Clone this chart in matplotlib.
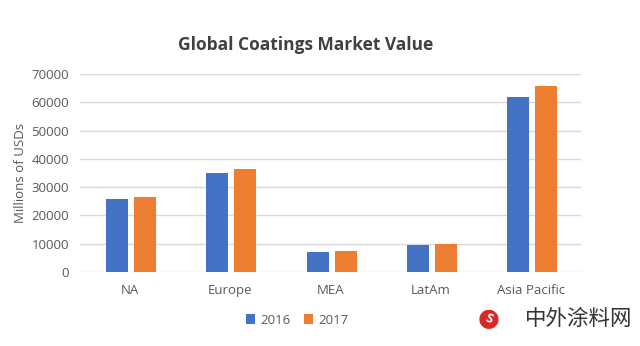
import matplotlib
matplotlib.use("Agg")
import matplotlib.pyplot as plt
import numpy as np

regions = ["NA", "Europe", "MEA", "LatAm", "Asia Pacific"]
years = ["2016", "2017"]
values_2016 = [25800, 35000, 6900, 9700, 61800]
values_2017 = [26500, 36500, 7300, 10000, 65800]
yticks = [0, 10000, 20000, 30000, 40000, 50000, 60000, 70000]

blue = "#4472C4"
orange = "#ED7D31"
grey = "#595959"

plt.rcParams['font.family'] = ['Open Sans', 'DejaVu Sans']

fig = plt.figure(figsize=(6.4, 3.46), dpi=100)
ax = fig.add_axes([0.125, 0.214, 0.783, 0.572])

x = np.arange(len(regions))
w = 0.22
ax.bar(x - 0.13, values_2016, w, color=blue, label=years[0], zorder=3)
ax.bar(x + 0.15, values_2017, w, color=orange, label=years[1], zorder=3)

ax.set_xlim(-0.5, len(regions) - 0.5)
ax.set_ylim(0, 70000)
ax.set_yticks(yticks)
ax.set_yticklabels([str(t) for t in yticks])
ax.set_xticks(x)
ax.set_xticklabels(regions)
ax.tick_params(axis='both', length=0, colors=grey, labelsize=9.5)
ax.tick_params(axis='x', pad=9)
ax.tick_params(axis='y', pad=8)
ax.grid(axis='y', color="#D9D9D9", linewidth=1, zorder=0)
for s in ax.spines.values():
    s.set_visible(False)

ax.set_ylabel("Millions of USDs", color=grey, fontsize=9.5, labelpad=3)

fig.text(0.477, 0.87, "Global Coatings Market Value", ha='center', va='center',
         fontsize=12.5, fontweight='bold', color="#404040")

fig.legend(loc='center', bbox_to_anchor=(0.465, 0.075), ncol=2, frameon=False,
           fontsize=9.5, handlelength=0.7, handleheight=0.7, handletextpad=0.4,
           columnspacing=1.0, labelcolor=grey)

# watermark in the bottom right corner
fig.text(0.988, 0.077, "中外涂料网", ha='right', va='center', fontsize=15.5,
         color="#333333", family=['Noto Sans CJK SC', 'DejaVu Sans'])
fig.text(0.764, 0.077, "S", ha='center', va='center', fontsize=9,
         fontweight='bold', color="white", rotation=-20,
         bbox=dict(boxstyle='circle,pad=0.25', fc="#D62A26", ec="none"))

fig.savefig("out.png", dpi=100)
